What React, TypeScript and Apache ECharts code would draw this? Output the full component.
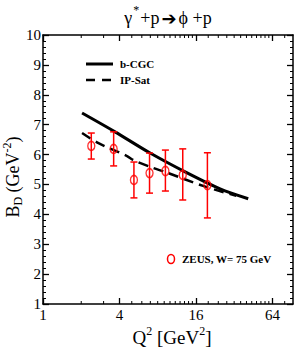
import React, { useEffect, useRef } from "react";
import * as echarts from "echarts";

// ZEUS data, W = 75 GeV
const zeusQ2 = [2.4, 3.6, 5.2, 6.9, 9.2, 12.6, 19.7];
const zeusBD = [6.29, 6.19, 5.15, 5.38, 5.45, 5.32, 4.98];
const zeusLow = [5.85, 5.62, 4.55, 4.71, 4.78, 4.48, 3.88];
const zeusHigh = [6.72, 6.76, 5.75, 6.05, 6.15, 6.19, 6.06];

// b-CGC model curve
const bcgcQ2 = [2.03, 3.69, 6.97, 13.15, 24.8, 41.3];
const bcgcBD = [7.39, 6.76, 6.05, 5.42, 4.85, 4.52];

// IP-Sat model curve
const ipsatQ2 = [2.03, 2.71, 4.59, 5.12, 7.36, 9.14, 18.2, 33.2];
const ipsatBD = [6.72, 6.39, 5.95, 5.82, 5.55, 5.42, 4.95, 4.62];

// axis ticks
const xMajorTicks = [1, 4, 16, 64];
const xMinorTicks = [2, 3, 5, 6, 7, 8, 9, 10, 11, 12, 13, 14, 15, 20, 24, 28, 32, 36, 40, 44, 48, 52, 56, 60, 80];

const SERIF = "Liberation Serif";

export default function App() {
  const ref = useRef<HTMLDivElement>(null);
  useEffect(() => {
    if (!ref.current) return;
    const chart = echarts.init(ref.current, null, { renderer: "svg" });
    const axisLine = { show: true, lineStyle: { color: "#000", width: 1.5 } };
    const xBase = { type: "log", logBase: 2, min: 1, max: 93, gridIndex: 0, splitLine: { show: false } };
    const yBase = { type: "value", min: 1, max: 10, interval: 1, gridIndex: 0, splitLine: { show: false } };
    const tickRich = { t: { fontFamily: SERIF, fontSize: 15, color: "#000", fill: "#000" } };
    const option: any = {
      animation: false,
      backgroundColor: "#fff",
      textStyle: { fontFamily: SERIF },
      grid: { left: 43, right: 4, top: 35, bottom: 52 },
      xAxis: [
        {
          ...xBase,
          position: "bottom",
          axisLine,
          axisTick: { inside: true, length: 6, customValues: xMajorTicks, lineStyle: { color: "#000", width: 1.3 } },
          axisLabel: {
            customValues: xMajorTicks,
            margin: 3,
            fontFamily: SERIF,
            fontSize: 15,
            color: "#000",
            formatter: (v: number) => "{t|" + Math.round(v) + "}",
            rich: tickRich,
          },
        },
        {
          ...xBase,
          position: "top",
          axisLine,
          axisTick: { inside: true, length: 6, customValues: xMajorTicks, lineStyle: { color: "#000", width: 1.3 } },
          axisLabel: { show: false },
        },
      ],
      yAxis: [
        {
          ...yBase,
          position: "left",
          axisLine,
          axisTick: { inside: true, length: 6, lineStyle: { color: "#000", width: 1.3 } },
          minorTick: { show: true, splitNumber: 5, length: 3, lineStyle: { color: "#000", width: 1 } },
          axisLabel: {
            margin: 2,
            fontFamily: SERIF,
            fontSize: 15,
            color: "#000",
            formatter: (v: number) => "{t|" + v + "}",
            rich: tickRich,
          },
        },
        {
          ...yBase,
          position: "right",
          axisLine,
          axisTick: { inside: true, length: 6, lineStyle: { color: "#000", width: 1.3 } },
          minorTick: { show: true, splitNumber: 5, length: 3, lineStyle: { color: "#000", width: 1 } },
          axisLabel: { show: false },
        },
      ],
      series: [
        {
          type: "custom",
          name: "minorTicks",
          xAxisIndex: 0,
          yAxisIndex: 0,
          silent: true,
          clip: false,
          data: xMinorTicks.map((v) => [v, 1]),
          encode: { x: 0, y: 1 },
          renderItem: (params: any, api: any) => {
            const v = api.value(0);
            const pb = api.coord([v, 1]);
            const pt = api.coord([v, 10]);
            const st = { stroke: "#000", lineWidth: 1 };
            return {
              type: "group",
              children: [
                { type: "line", shape: { x1: pb[0], y1: pb[1], x2: pb[0], y2: pb[1] - 3 }, style: st },
                { type: "line", shape: { x1: pt[0], y1: pt[1], x2: pt[0], y2: pt[1] + 3 }, style: st },
              ],
            };
          },
        },
        {
          type: "line",
          name: "b-CGC",
          data: bcgcQ2.map((q, i) => [q, bcgcBD[i]]),
          smooth: 0.3,
          showSymbol: false,
          lineStyle: { color: "#000", width: 3 },
          z: 3,
        },
        {
          type: "line",
          name: "IP-Sat",
          data: ipsatQ2.map((q, i) => [q, ipsatBD[i]]),
          smooth: 0.3,
          showSymbol: false,
          lineStyle: { color: "#000", width: 2.5, type: [10, 6] },
          z: 3,
        },
        {
          type: "custom",
          name: "errors",
          data: zeusQ2.map((q, i) => [q, zeusLow[i], zeusHigh[i]]),
          encode: { x: 0, y: [1, 2] },
          z: 4,
          renderItem: (params: any, api: any) => {
            const x = api.value(0);
            const p1 = api.coord([x, api.value(1)]);
            const p2 = api.coord([x, api.value(2)]);
            const w = 3.5;
            const st = { stroke: "#ff0000", lineWidth: 1.5 };
            return {
              type: "group",
              children: [
                { type: "line", shape: { x1: p1[0], y1: p1[1], x2: p2[0], y2: p2[1] }, style: st },
                { type: "line", shape: { x1: p1[0] - w, y1: p1[1], x2: p1[0] + w, y2: p1[1] }, style: st },
                { type: "line", shape: { x1: p2[0] - w, y1: p2[1], x2: p2[0] + w, y2: p2[1] }, style: st },
              ],
            };
          },
        },
        {
          type: "scatter",
          name: "ZEUS",
          data: zeusQ2.map((q, i) => [q, zeusBD[i]]),
          symbol: "circle",
          symbolSize: [7, 9],
          itemStyle: { color: "rgba(0,0,0,0)", borderColor: "#ff0000", borderWidth: 1.5 },
          z: 5,
        },
      ],
      graphic: [
        {
          type: "text",
          x: 168,
          y: 18,
          style: {
            text: "{g|γ}{s|*}{t|+p}{a|➔}{t|ϕ +p}",
            align: "center",
            verticalAlign: "middle",
            fill: "#000",
            rich: {
              g: { fontFamily: SERIF, fontSize: 18, fill: "#000" },
              s: { fontFamily: SERIF, fontSize: 12, fill: "#000", padding: [0, 1, 16, 1] },
              t: { fontFamily: SERIF, fontSize: 18, fill: "#000" },
              a: { fontFamily: "DejaVu Sans", fontSize: 18, fontWeight: "bold", fill: "#000", padding: [0, 2, 0, 2] },
            },
          },
        },
        {
          type: "text",
          x: 13,
          y: 177,
          rotation: Math.PI / 2,
          style: {
            text: "{m|B}{d|D}{m| (GeV}{u|-2}{m|)}",
            align: "center",
            verticalAlign: "middle",
            rich: {
              m: { fontFamily: SERIF, fontSize: 18, fill: "#000" },
              d: { fontFamily: SERIF, fontSize: 12, fill: "#000", padding: [10, 0, 0, 0] },
              u: { fontFamily: SERIF, fontSize: 12, fill: "#000", padding: [0, 0, 12, 0] },
            },
          },
        },
        {
          type: "text",
          x: 172,
          y: 337,
          style: {
            text: "{m|Q}{u|2}{m| [GeV}{u|2}{m|]}",
            align: "center",
            verticalAlign: "middle",
            rich: {
              m: { fontFamily: SERIF, fontSize: 19, fill: "#000" },
              u: { fontFamily: SERIF, fontSize: 12, fill: "#000", padding: [0, 0, 12, 0] },
            },
          },
        },
        { type: "line", shape: { x1: 86, y1: 64, x2: 113, y2: 64 }, style: { stroke: "#000", lineWidth: 3 } },
        { type: "line", shape: { x1: 86, y1: 80, x2: 113, y2: 80 }, style: { stroke: "#000", lineWidth: 2.5, lineDash: [9, 7] } },
        {
          type: "text",
          x: 120,
          y: 64,
          style: { text: "b-CGC", fontFamily: SERIF, fontSize: 11, fontWeight: "bold", fill: "#000", verticalAlign: "middle" },
        },
        {
          type: "text",
          x: 120,
          y: 80,
          style: { text: "IP-Sat", fontFamily: SERIF, fontSize: 11, fontWeight: "bold", fill: "#000", verticalAlign: "middle" },
        },
        {
          type: "ellipse",
          shape: { cx: 171, cy: 259, rx: 3.5, ry: 4.5 },
          style: { fill: "none", stroke: "#ff0000", lineWidth: 1.5 },
        },
        {
          type: "text",
          x: 182,
          y: 259,
          style: { text: "ZEUS, W= 75 GeV", fontFamily: SERIF, fontSize: 11, fontWeight: "bold", fill: "#000", verticalAlign: "middle" },
        },
      ],
    };
    chart.setOption(option);
    return () => chart.dispose();
  }, []);
  return <div ref={ref} style={{ position: "fixed", left: 0, top: 0, width: 297, height: 356 }} />;
}
